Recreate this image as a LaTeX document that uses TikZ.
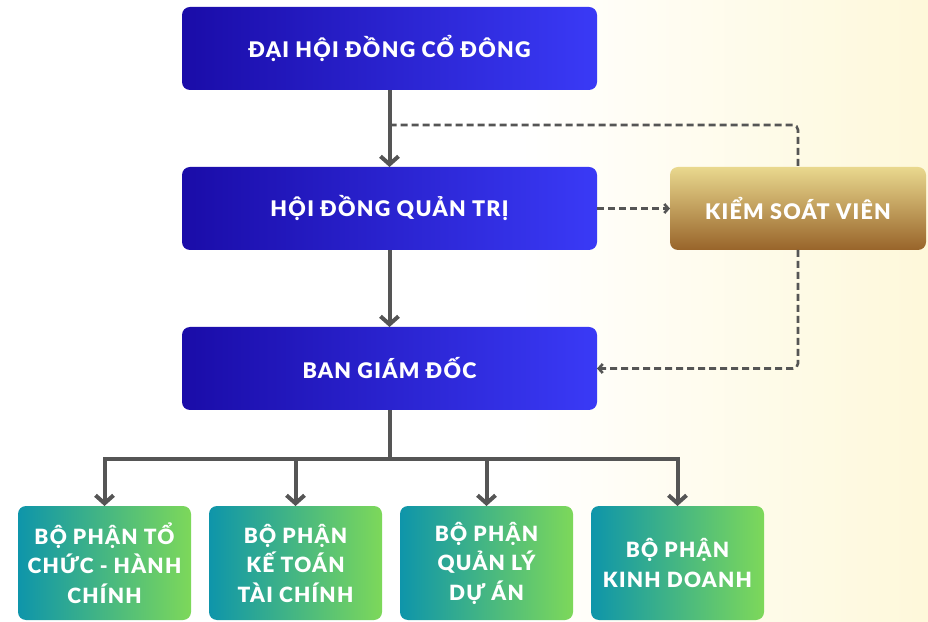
\documentclass[tikz,border=0pt]{standalone}
\usepackage{fontspec}
\setmainfont{Lato}[BoldFont={Lato Black}, BoldFeatures={LetterSpace=6}]
\usetikzlibrary{arrows.meta,chains,positioning,scopes}

\definecolor{navyL}{HTML}{1A0CA8}
\definecolor{navyR}{HTML}{3A3AF6}
\definecolor{goldT}{HTML}{E9D88E}
\definecolor{goldB}{HTML}{98642A}
\definecolor{tealL}{HTML}{0E95AA}
\definecolor{tealR}{HTML}{7DD85A}
\definecolor{lineGray}{HTML}{555555}
\definecolor{creamBg}{HTML}{FEF8DA}

\begin{document}
\begin{tikzpicture}
      [
        x = 1pt, y = 1pt,
        node distance = 77pt,
        BoardBlock/.style={rounded corners=8pt, minimum width=415pt, minimum height=83pt, outer sep=0pt, left color=navyL, right color=navyR, text=white, font=\bfseries\fontsize{21.5}{24}\selectfont},
        AuditBlock/.style={rounded corners=8pt, minimum width=256pt, minimum height=83pt, outer sep=0pt, top color=goldT, bottom color=goldB, text=white, font=\bfseries\fontsize{21.5}{24}\selectfont},
        DeptBlock/.style={rounded corners=8pt, minimum width=173pt, minimum height=114pt, outer sep=0pt, left color=tealL, right color=tealR, text=white, align=center, font=\bfseries\fontsize{21}{29.5}\selectfont, on chain},
        MainArrow/.style={draw=lineGray, line width=4pt, -{Straight Barb[length=8pt, width=18pt]}},
        AuditArrow/.style={draw=lineGray, line width=2.6pt, dash pattern=on 7pt off 4pt, rounded corners=5pt},
      ]

      % background
      \useasboundingbox (0,0) rectangle (928,621);
      \fill[white] (0,0) rectangle (928,621);
      \shade[left color=white, right color=creamBg] (520,0) rectangle (928,621);

      \node [BoardBlock] at (389.5,572.5) (dhdcd) {ĐẠI HỘI ĐỒNG CỔ ĐÔNG};
      \node [BoardBlock, below=of dhdcd] (hdqt) {HỘI ĐỒNG QUẢN TRỊ};
      \node [BoardBlock, below=of hdqt] (bgd) {BAN GIÁM ĐỐC};
      \node [AuditBlock, right=73pt of hdqt] (ksv) {KIỂM SOÁT VIÊN};

      { [start chain = going right, node distance = 18pt]
      \node [DeptBlock] at (104.5,58) (bp1) {BỘ PHẬN TỔ\\CHỨC - HÀNH\\CHÍNH};
      \node [DeptBlock] (bp2) {BỘ PHẬN\\KẾ TOÁN\\TÀI CHÍNH};
      \node [DeptBlock] (bp3) {BỘ PHẬN\\QUẢN LÝ\\DỰ ÁN};
      \node [DeptBlock] (bp4) {BỘ PHẬN\\KINH DOANH};
      }

      \coordinate (tap) at ([yshift=-35pt]dhdcd.south);
      \coordinate (split) at ([yshift=-49pt]bgd.south);

      \draw[MainArrow] (dhdcd) -- (hdqt);
      \draw[MainArrow] (hdqt) -- (bgd);
      \draw[draw=lineGray, line width=4pt] (bgd) -- (split);
      \foreach \d in {bp1,bp2,bp3,bp4}
        \draw[MainArrow] (split) -| (\d.north);

      \draw[AuditArrow] (tap) -| (ksv.north);
      \draw[AuditArrow, -{Straight Barb[length=4pt, width=9pt]}] (hdqt) -- (ksv);
      \draw[AuditArrow, -{Straight Barb[length=4pt, width=9pt]}] (ksv.south) |- (bgd.east);
    \end{tikzpicture}
\end{document}
